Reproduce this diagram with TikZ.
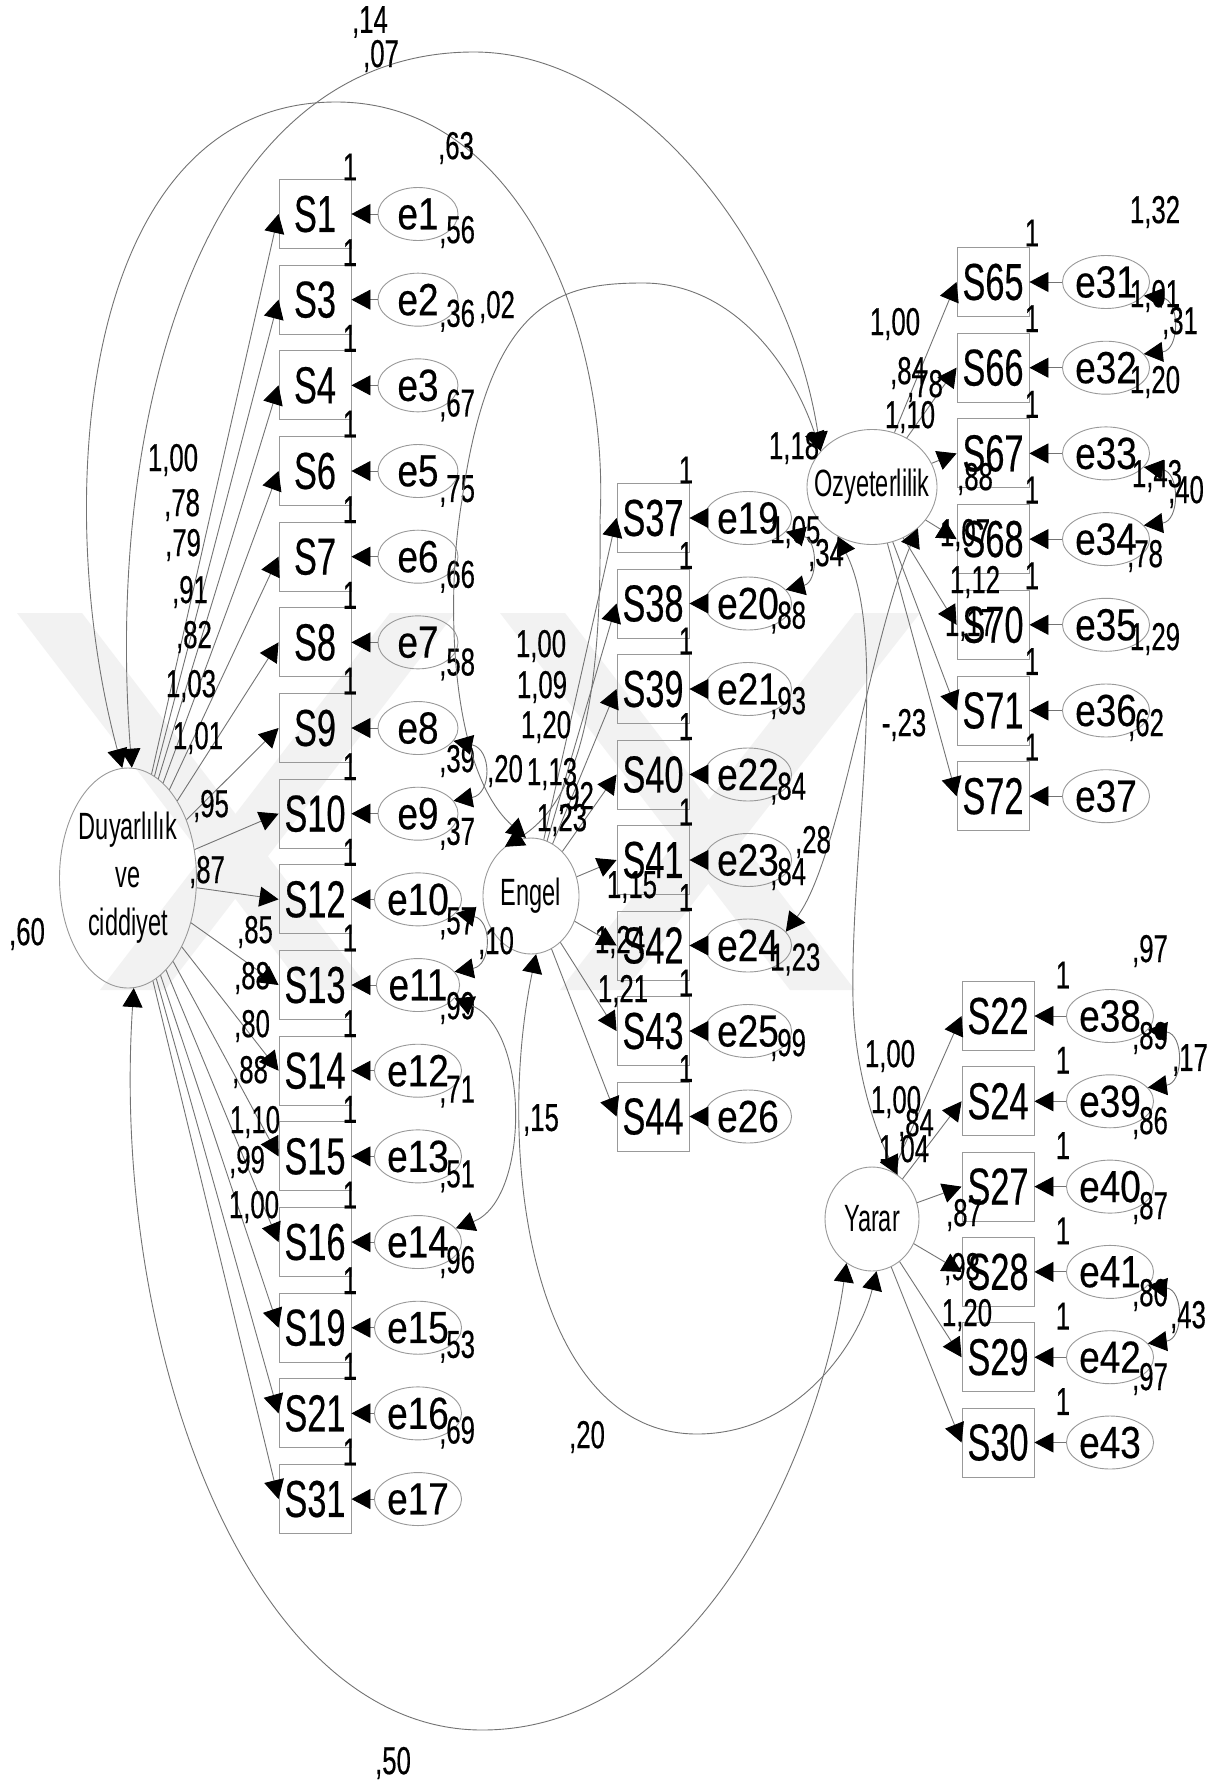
\documentclass[tikz,border=0pt]{standalone}
\usepackage{fontspec}
\setmainfont{Liberation Sans}
\newfontfamily\narrowfam[FakeStretch=0.66,FakeBold=0.4]{Liberation Sans}
\newfontfamily\latfam[FakeStretch=0.62]{Liberation Sans}
\newfontfamily\errfam[FakeStretch=0.82,FakeBold=0.4]{Liberation Sans}
\usetikzlibrary{arrows.meta,shapes.geometric}
\newcommand\boxfont{\narrowfam\fontsize{52}{52}\selectfont}
\newcommand\errfont{\errfam\fontsize{45}{45}\selectfont}
\newcommand\numfont{\narrowfam\fontsize{39}{39}\selectfont}
\newcommand\latfont{\latfam\fontsize{38}{48}\selectfont}
\tikzset{
  shp/.style={draw=black!40, line width=0.9pt},
  obs/.style={shp, rectangle, minimum width=72pt, minimum height=69pt, inner sep=0pt, font=\boxfont},
  err/.style={shp, ellipse, minimum width=80pt, minimum height=53pt, inner sep=0pt, font=\errfont},
  lat/.style={shp, ellipse, inner sep=0pt},
  latlab/.style={font=\latfont, align=center, inner sep=0pt},
  con/.style={draw=black!55, line width=0.9pt, ->},
  cov/.style={draw=black!55, line width=0.9pt, <->},
  num/.style={font=\numfont, inner sep=0pt},
  wm/.style={fill=black!5, draw=none},
}
\begin{document}
\begin{tikzpicture}[x=1pt,y=-1pt,>={Triangle[length=19pt,width=20pt,color=black]}]
\useasboundingbox (0,0) rectangle (1231,1785);
\fill[white] (0,0) rectangle (1231,1785);
% watermark (faint)
\fill[wm] (17,613) -- (82,613) -- (370,990) -- (305,990) -- cycle;
\fill[wm] (100,990) -- (165,990) -- (455,613) -- (390,613) -- cycle;
\fill[wm] (500,613) -- (565,613) -- (855,990) -- (790,990) -- cycle;
\fill[wm] (560,990) -- (625,990) -- (920,613) -- (855,613) -- cycle;

% latent variables
\node[lat, minimum width=137pt, minimum height=220pt] (Duy) at (128,878) {};
\node[latlab] (DuyT) at (Duy.center) {Duyarlılık\\ve\\ciddiyet};
\node[lat, minimum width=96pt, minimum height=116pt] (Engel) at (531,896) {};
\node[latlab] (EngelT) at (Engel.center) {Engel};
\node[lat, minimum width=130pt, minimum height=115pt] (Ozy) at (872,487) {};
\node[latlab] (OzyT) at (Ozy.center) {Ozyeterlilik};
\node[lat, minimum width=94pt, minimum height=104pt] (Yarar) at (872,1219) {};
\node[latlab] (YararT) at (Yarar.center) {Yarar};

% left column
\foreach \s/\e/\v/\o [count=\i from 0] in {1/1/{,56}/18, 3/2/{,36}/16, 4/3/{,67}/20, 6/5/{,75}/20, 7/6/{,66}/20, 8/7/{,58}/22, 9/8/{,39}/33, 10/9/{,37}/20, 12/10/{,57}/24, 13/11/{,99}/23, 14/12/{,71}/21, 15/13/{,51}/20, 16/14/{,96}/20, 19/15/{,53}/19, 21/16/{,69}/19, 31/17/{}/0}{
  \node[obs] (S\s) at (315,{214+85.67*\i}) {S\s};
  \node[err] (e\e) at (418,{214+85.67*\i}) {e\e};
  \draw[con] (e\e) -- (S\s);
  \draw[con] (Duy) -- (S\s.west);
  \node[num] (one\s) at (350,{214+85.67*\i-47}) {1};
  \node[num, anchor=west] (var\e) at (439,{214+85.67*\i+\o}) {\v};
}
% middle column
\foreach \s/\e/\v [count=\i from 0] in {37/19/{1,05}, 38/20/{,88}, 39/21/{,93}, 40/22/{,84}, 41/23/{,84}, 42/24/{1,23}, 43/25/{,99}, 44/26/{}}{
  \node[obs] (S\s) at (653,{518+85.5*\i}) {S\s};
  \node[err] (e\e) at (748,{518+85.5*\i}) {e\e};
  \draw[con] (e\e) -- (S\s);
  \draw[con] (Engel) -- (S\s.west);
  \node[num] (one\s) at (686,{518+85.5*\i-48}) {1};
  \node[num, anchor=west] (var\e) at (770,{518+85.5*\i+14}) {\v};
}
% right upper column
\foreach \s/\e [count=\i from 0] in {65/31, 66/32, 67/33, 68/34, 70/35, 71/36, 72/37}{
  \node[obs] (S\s) at (993,{282+85.7*\i}) {S\s};
  \node[err] (e\e) at (1106,{282+85.7*\i}) {e\e};
  \draw[con] (e\e) -- (S\s);
  \draw[con] (Ozy) -- (S\s.west);
  \node[num] (one\s) at (1032,{282+85.7*\i-49}) {1};
}
% right lower column
\foreach \s/\e [count=\i from 0] in {22/38, 24/39, 27/40, 28/41, 29/42, 30/43}{
  \node[obs] (S\s) at (998,{1016+85.3*\i}) {S\s};
  \node[err] (e\e) at (1110,{1016+85.3*\i}) {e\e};
  \draw[con] (e\e) -- (S\s);
  \draw[con] (Yarar) -- (S\s.west);
  \node[num] (one\s) at (1063,{1016+85.3*\i-41}) {1};
}

% covariance arcs
\draw[cov] (Duy.88) .. controls (105,420) and (200,52) .. (474,52) .. controls (640,52) and (790,250) .. (Ozy.145);
\draw[cov] (Duy.93) .. controls (50,500) and (80,102) .. (336,102) .. controls (520,102) and (610,330) .. (600,520) .. controls (602,700) and (580,800) .. (Engel.118);
\draw[cov] (Engel.95) .. controls (450,770) and (445,600) .. (462,500) .. controls (490,300) and (560,283) .. (643,283) .. controls (730,283) and (790,360) .. (Ozy.145);
\draw[cov] (Duy.273) .. controls (110,1350) and (250,1730) .. (482,1730) .. controls (700,1730) and (820,1450) .. (Yarar.240);
\draw[cov] (Engel.275) .. controls (495,1150) and (530,1434) .. (697,1434) .. controls (800,1434) and (860,1340) .. (Yarar.275);
\draw[cov] (Ozy.235) .. controls (890,640) and (850,850) .. (853,1000) .. controls (855,1080) and (880,1140) .. (Yarar.60);
\draw[cov] (e24.20) .. controls (840,860) and (870,640) .. (Ozy.318);
\draw[cov] (e11.-20) .. controls (530,1030) and (530,1200) .. (e14.20);
\draw[cov] (e10.-20) .. controls (492,920) and (492,965) .. (e11.20);
\draw[cov] (e8.-20) .. controls (492,749) and (492,794) .. (e9.20);
\draw[cov] (e19.-20) .. controls (818,540) and (818,582) .. (e20.20);
\draw[cov] (e31.-20) .. controls (1180,300) and (1180,350) .. (e32.20);
\draw[cov] (e33.-20) .. controls (1180,472) and (1180,521) .. (e34.20);
\draw[cov] (e38.-20) .. controls (1184,1034) and (1184,1083) .. (e39.20);
\draw[cov] (e41.-20) .. controls (1184,1290) and (1184,1339) .. (e42.20);

% estimates
\foreach \x/\y/\t [count=\k] in {
  173/460/{1,00}, 182/505/{,78}, 183/545/{,79}, 190/592/{,91}, 194/637/{,82}, 191/686/{1,03}, 198/738/{1,01}, 211/806/{,95}, 207/872/{,87}, 255/932/{,85}, 252/978/{,88}, 252/1026/{,80}, 250/1072/{,88}, 255/1122/{1,10}, 247/1162/{,99}, 254/1207/{1,00},
  370/22/{,14}, 381/56/{,07}, 456/148/{,63}, 497/307/{,02}, 27/934/{,60}, 505/771/{,20}, 496/943/{,10}, 541/1120/{,15}, 587/1437/{,20}, 393/1763/{,50},
  541/646/{1,00}, 542/687/{1,09}, 546/727/{1,20}, 552/774/{1,13}, 576/798/{,92}, 562/820/{1,23}, 632/887/{1,15}, 620/942/{1,24}, 623/991/{1,21},
  826/555/{,34}, 813/842/{,28}, 904/725/{-,23},
  895/324/{1,00}, 908/373/{,84}, 925/386/{,78}, 910/417/{1,10}, 794/448/{1,18}, 975/479/{,88}, 965/535/{1,07}, 975/582/{1,12}, 970/625/{1,17},
  1155/212/{1,32}, 1155/296/{1,01}, 1180/323/{,31}, 1155/382/{1,20}, 1157/476/{1,43}, 1186/492/{,40}, 1145/556/{,78}, 1155/639/{1,29}, 1146/725/{,62},
  890/1056/{1,00}, 896/1102/{1,00}, 916/1125/{,84}, 904/1151/{1,04}, 964/1215/{,87}, 962/1269/{,98}, 967/1315/{1,20},
  1150/951/{,97}, 1150/1038/{,89}, 1190/1060/{,17}, 1150/1123/{,86}, 1150/1208/{,87}, 1150/1295/{,80}, 1188/1317/{,43}, 1150/1379/{,97}}{
  \node[num] (lab\k) at (\x,\y) {\t};
}
\end{tikzpicture}
\end{document}
